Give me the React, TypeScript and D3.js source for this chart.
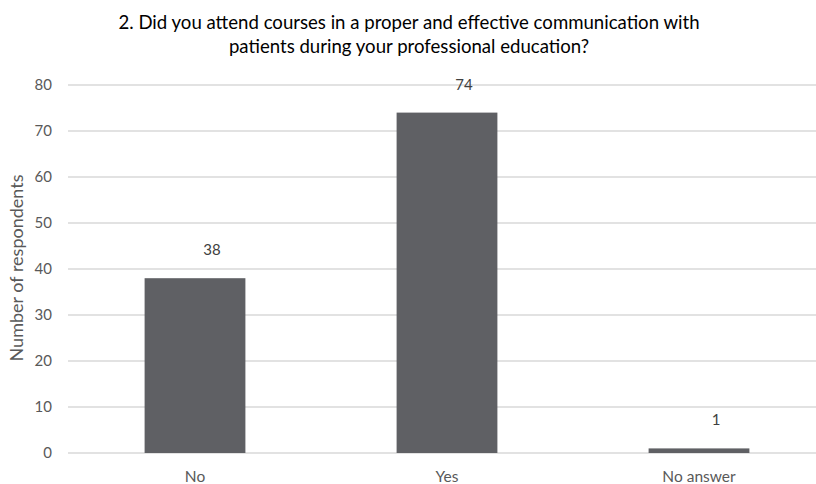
import React from "react";
import * as d3 from "d3";

const categories = ["No", "Yes", "No answer"];
const values = [38, 74, 1];
const yTicks = [0, 10, 20, 30, 40, 50, 60, 70, 80];
const titleLines = [
  "2. Did you attend courses in a proper and effective communication with",
  "patients during your professional education?",
];
const yAxisTitle = "Number of respondents";

const W = 816;
const H = 484;
const FONT = "Lato, 'Open Sans', sans-serif";

export default function App() {
  const x = d3.scaleBand<string>().domain(categories).range([69, 825]).paddingInner(0.6).paddingOuter(0.3);
  const y = d3.scaleLinear().domain([0, 80]).range([453, 85]);
  return (
    <svg width={W} height={H} style={{ position: "absolute", left: 0, top: 0 }}>
      <rect width={W} height={H} fill="#fff" />
      {titleLines.map((t, i) => (
        <text key={i} x={409} y={29 + i * 24} textAnchor="middle" fontFamily={FONT} fontSize={18.6} fill="#000">
          {t}
        </text>
      ))}
      {yTicks.map((t) => (
        <g key={t}>
          <line x1={68} x2={W} y1={y(t)} y2={y(t)} stroke="#d9d9d9" strokeWidth={1.3} />
          <text x={52} y={y(t) + 5} textAnchor="end" fontFamily={FONT} fontSize={15} fill="#595959">
            {t}
          </text>
        </g>
      ))}
      {categories.map((c, i) => (
        <g key={c}>
          <rect x={x(c)} y={y(values[i])} width={x.bandwidth()} height={y(0) - y(values[i])} fill="#5f6064" />
          <text x={(x(c) as number) + x.bandwidth() / 2 + 17} y={y(values[i]) - 23} textAnchor="middle" fontFamily={FONT} fontSize={15} fill="#404040">
            {values[i]}
          </text>
          <text x={(x(c) as number) + x.bandwidth() / 2} y={482} textAnchor="middle" fontFamily={FONT} fontSize={15.5} fill="#595959">
            {c}
          </text>
        </g>
      ))}
      <text transform={`translate(23,268) rotate(-90)`} textAnchor="middle" fontFamily={FONT} fontSize={18} fill="#595959">
        {yAxisTitle}
      </text>
    </svg>
  );
}
